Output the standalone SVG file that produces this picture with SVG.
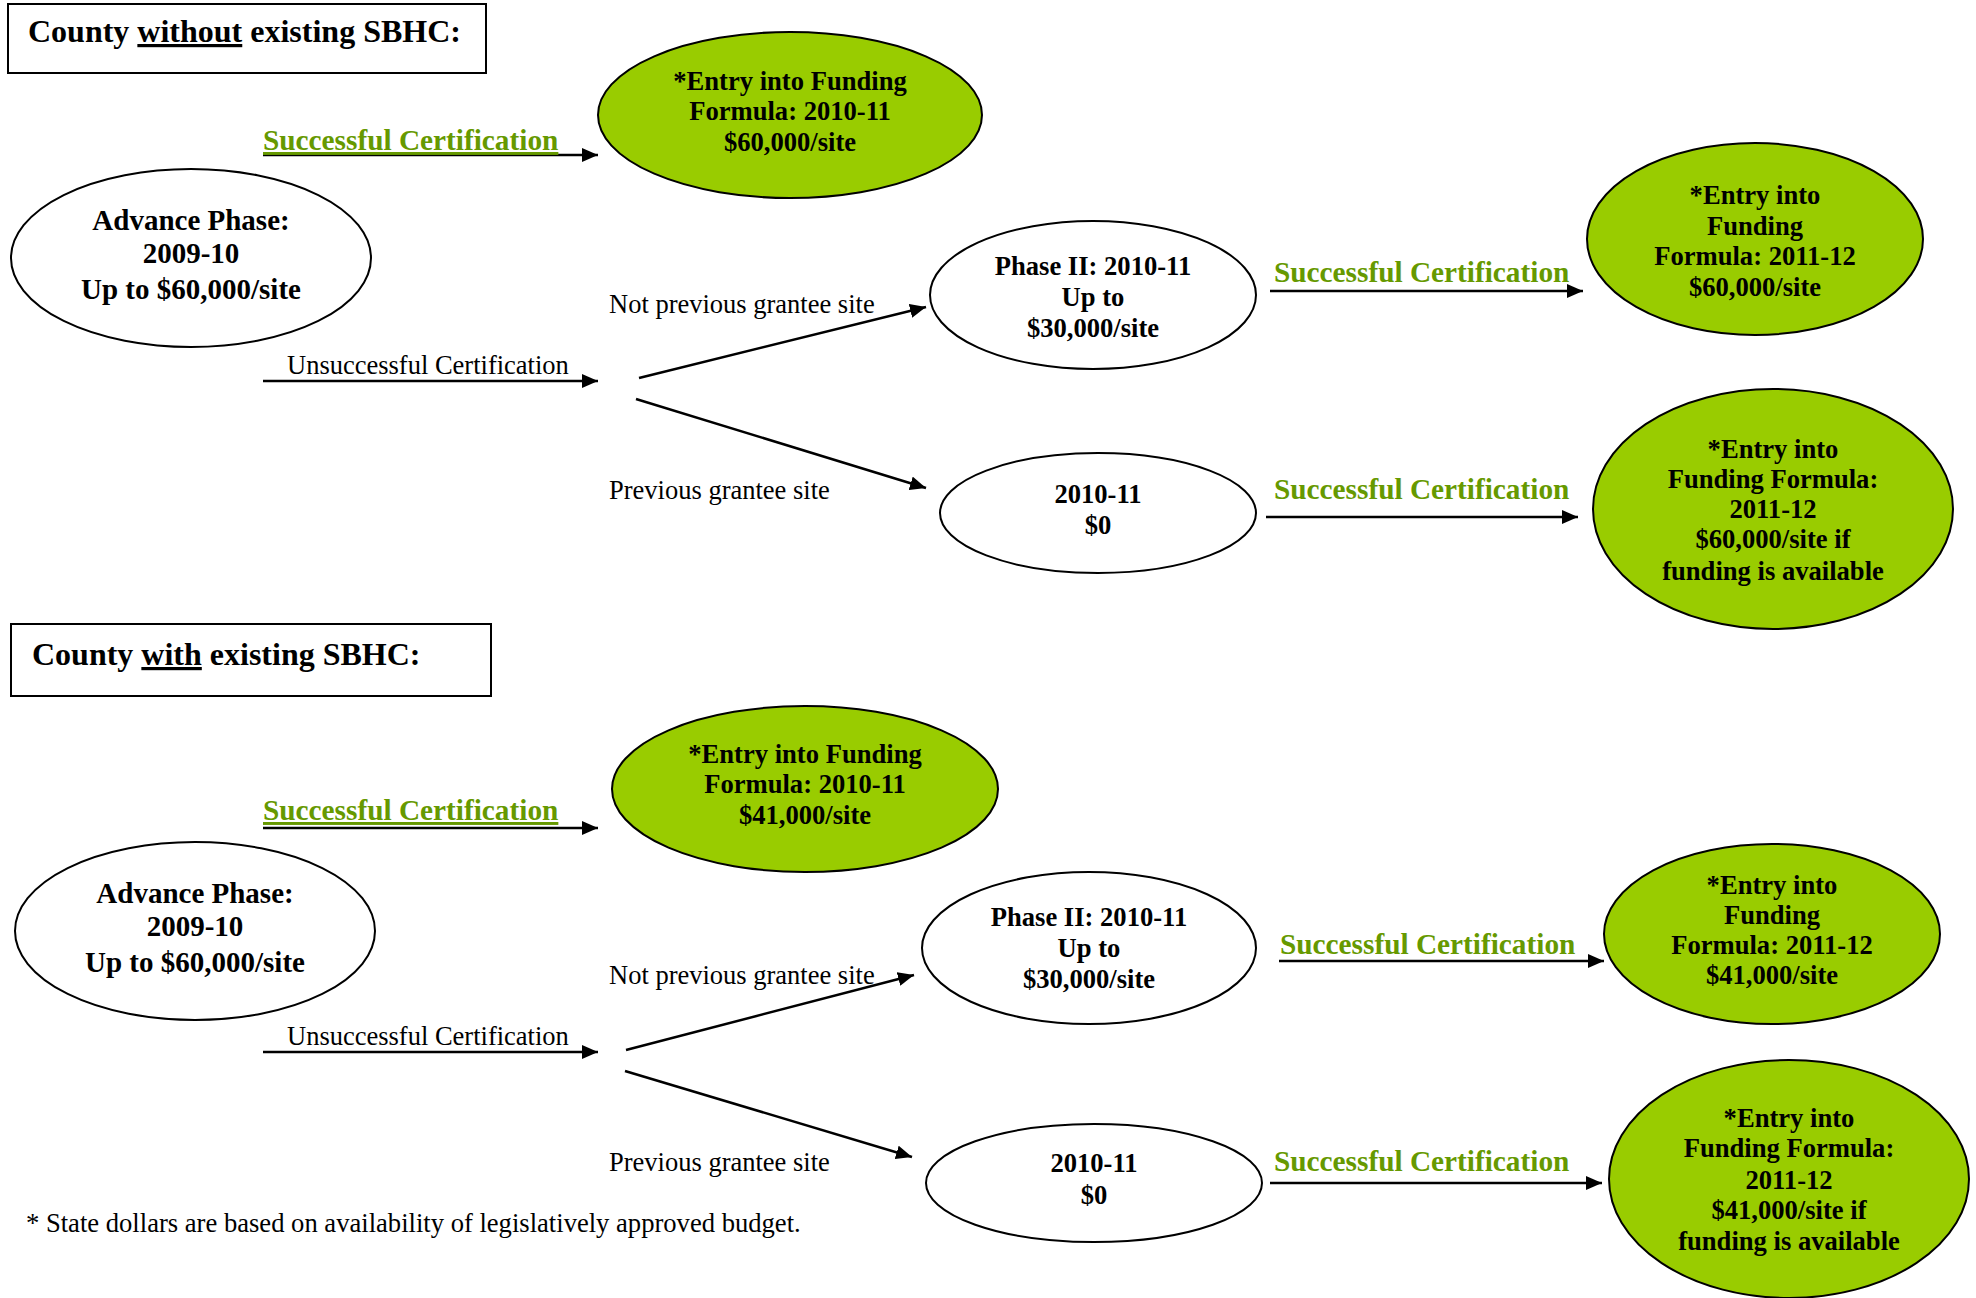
<svg xmlns="http://www.w3.org/2000/svg" width="1976" height="1298" viewBox="0 0 1976 1298">
<defs>
<marker id="ah" markerUnits="userSpaceOnUse" markerWidth="18" markerHeight="14" refX="16" refY="7" orient="auto">
<path d="M0,0 L16,7 L0,14 z" fill="#000"/>
</marker>
<style>
text{font-family:"Liberation Serif","Times New Roman",serif;fill:#000}
.title{font-size:32px;font-weight:bold}
.nb{font-size:26.6px;font-weight:bold;text-anchor:middle}
.adv{font-size:29px;font-weight:bold;text-anchor:middle}
.succ{font-size:29.3px;font-weight:bold;fill:#669900}
.lbl{font-size:26.5px}
.foot{font-size:26.6px}
.box{fill:#fff;stroke:#000;stroke-width:2}
.wn{fill:#fff;stroke:#000;stroke-width:2}
.gn{fill:#99cc00;stroke:#000;stroke-width:2}
.ar{stroke:#000;stroke-width:2.5;fill:none;marker-end:url(#ah)}
</style>
</defs>
<rect width="1976" height="1298" fill="#fff"/>

<!-- Section 1 -->
<g id="title1"><rect class="box" x="8" y="4" width="478" height="69"/><text class="title" x="28" y="42">County <tspan text-decoration="underline">without</tspan> existing SBHC:</text></g>
<g id="entry1"><ellipse class="gn" cx="790" cy="115" rx="192" ry="83"/><text class="nb" x="790" y="90">*Entry into Funding</text><text class="nb" x="790" y="120">Formula: 2010-11</text><text class="nb" x="790" y="151">$60,000/site</text></g>
<g id="advance1"><ellipse class="wn" cx="191" cy="258" rx="180" ry="89"/><text class="adv" x="191" y="230">Advance Phase:</text><text class="adv" x="191" y="263">2009-10</text><text class="adv" x="191" y="299">Up to $60,000/site</text></g>
<g id="phase2a"><ellipse class="wn" cx="1093" cy="295" rx="163" ry="74"/><text class="nb" x="1093" y="275">Phase II: 2010-11</text><text class="nb" x="1093" y="306">Up to</text><text class="nb" x="1093" y="337">$30,000/site</text></g>
<g id="zero1"><ellipse class="wn" cx="1098" cy="513" rx="158" ry="60"/><text class="nb" x="1098" y="503">2010-11</text><text class="nb" x="1098" y="534">$0</text></g>
<g id="entry1b"><ellipse class="gn" cx="1755" cy="239" rx="168" ry="96"/><text class="nb" x="1755" y="204">*Entry into</text><text class="nb" x="1755" y="235">Funding</text><text class="nb" x="1755" y="265">Formula: 2011-12</text><text class="nb" x="1755" y="296">$60,000/site</text></g>
<g id="entry1c"><ellipse class="gn" cx="1773" cy="509" rx="180" ry="120"/><text class="nb" x="1773" y="458">*Entry into</text><text class="nb" x="1773" y="488">Funding Formula:</text><text class="nb" x="1773" y="518">2011-12</text><text class="nb" x="1773" y="548">$60,000/site if</text><text class="nb" x="1773" y="580">funding is available</text></g>

<!-- Section 2 -->
<g id="title2"><rect class="box" x="11" y="624" width="480" height="72"/><text class="title" x="32" y="665">County <tspan text-decoration="underline">with</tspan> existing SBHC:</text></g>
<g id="entry2"><ellipse class="gn" cx="805" cy="789" rx="193" ry="83"/><text class="nb" x="805" y="763">*Entry into Funding</text><text class="nb" x="805" y="793">Formula: 2010-11</text><text class="nb" x="805" y="824">$41,000/site</text></g>
<g id="advance2"><ellipse class="wn" cx="195" cy="931" rx="180" ry="89"/><text class="adv" x="195" y="903">Advance Phase:</text><text class="adv" x="195" y="936">2009-10</text><text class="adv" x="195" y="972">Up to $60,000/site</text></g>
<g id="phase2b"><ellipse class="wn" cx="1089" cy="948" rx="167" ry="76"/><text class="nb" x="1089" y="926">Phase II: 2010-11</text><text class="nb" x="1089" y="957">Up to</text><text class="nb" x="1089" y="988">$30,000/site</text></g>
<g id="zero2"><ellipse class="wn" cx="1094" cy="1183" rx="168" ry="59"/><text class="nb" x="1094" y="1172">2010-11</text><text class="nb" x="1094" y="1204">$0</text></g>
<g id="entry2b"><ellipse class="gn" cx="1772" cy="934" rx="168" ry="90"/><text class="nb" x="1772" y="894">*Entry into</text><text class="nb" x="1772" y="924">Funding</text><text class="nb" x="1772" y="954">Formula: 2011-12</text><text class="nb" x="1772" y="984">$41,000/site</text></g>
<g id="entry2c"><ellipse class="gn" cx="1789" cy="1179" rx="180" ry="119"/><text class="nb" x="1789" y="1127">*Entry into</text><text class="nb" x="1789" y="1157">Funding Formula:</text><text class="nb" x="1789" y="1189">2011-12</text><text class="nb" x="1789" y="1219">$41,000/site if</text><text class="nb" x="1789" y="1250">funding is available</text></g>

<!-- Connectors -->
<g id="connectors">
<line class="ar" x1="263" y1="155" x2="598" y2="155"/>
<line class="ar" x1="263" y1="381" x2="598" y2="381"/>
<line class="ar" x1="639" y1="378" x2="926" y2="307"/>
<line class="ar" x1="636" y1="399" x2="926" y2="488"/>
<line class="ar" x1="1270" y1="291" x2="1583" y2="291"/>
<line class="ar" x1="1266" y1="517" x2="1578" y2="517"/>
<line class="ar" x1="263" y1="828" x2="598" y2="828"/>
<line class="ar" x1="263" y1="1052" x2="598" y2="1052"/>
<line class="ar" x1="626" y1="1050" x2="914" y2="975"/>
<line class="ar" x1="625" y1="1071" x2="912" y2="1157"/>
<line class="ar" x1="1279" y1="961" x2="1604" y2="961"/>
<line class="ar" x1="1270" y1="1183" x2="1602" y2="1183"/>
</g>

<!-- Connector labels -->
<g id="labels">
<text class="succ" x="263" y="150" text-decoration="underline">Successful Certification</text>
<text class="lbl" x="287" y="374">Unsuccessful Certification</text>
<text class="lbl" x="609" y="313">Not previous grantee site</text>
<text class="lbl" x="609" y="499">Previous grantee site</text>
<text class="succ" x="1274" y="282">Successful Certification</text>
<text class="succ" x="1274" y="499">Successful Certification</text>
<text class="succ" x="263" y="820" text-decoration="underline">Successful Certification</text>
<text class="lbl" x="287" y="1045">Unsuccessful Certification</text>
<text class="lbl" x="609" y="984">Not previous grantee site</text>
<text class="lbl" x="609" y="1171">Previous grantee site</text>
<text class="succ" x="1280" y="954">Successful Certification</text>
<text class="succ" x="1274" y="1171">Successful Certification</text>
</g>

<text class="foot" x="26" y="1232">* State dollars are based on availability of legislatively approved budget.</text>
</svg>
